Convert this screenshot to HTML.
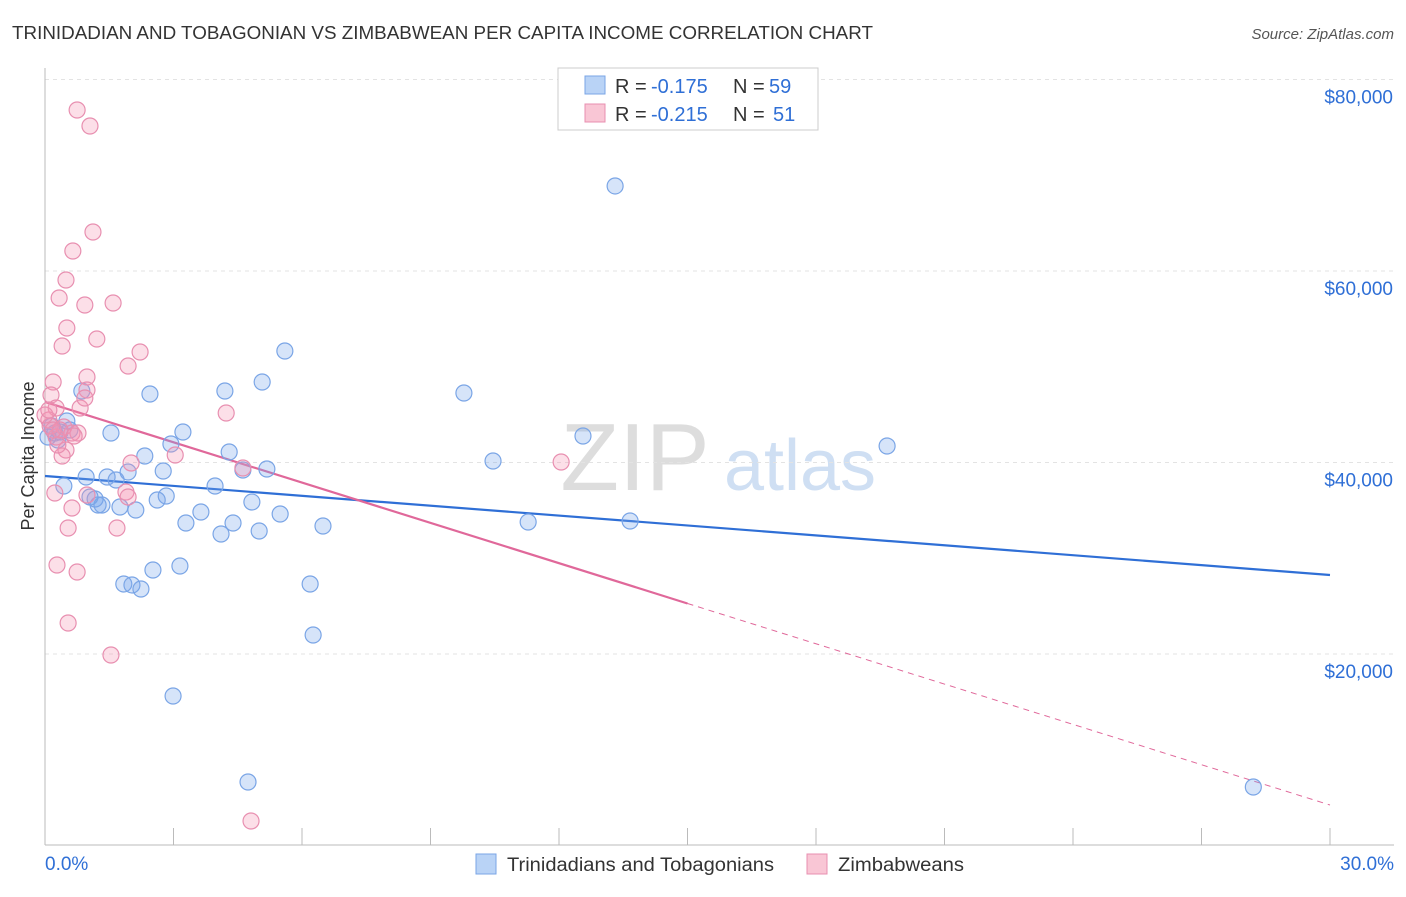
<!DOCTYPE html>
<html><head><meta charset="utf-8"><style>
body{margin:0;background:#fff;font-family:"Liberation Sans",sans-serif;}
svg text{font-family:"Liberation Sans",sans-serif;}
</style></head><body>
<svg id="chart" width="1406" height="892">
<text x="12" y="39" font-size="18" fill="#333" textLength="861" lengthAdjust="spacingAndGlyphs">TRINIDADIAN AND TOBAGONIAN VS ZIMBABWEAN PER CAPITA INCOME CORRELATION CHART</text>
<text x="1394" y="39" font-size="15" fill="#555" font-style="italic" text-anchor="end">Source: ZipAtlas.com</text>
<text transform="translate(34,456) rotate(-90)" font-size="18" fill="#333" text-anchor="middle">Per Capita Income</text>
<g><text x="635" y="490" font-size="96" fill="#ddd" font-family="Liberation Serif" text-anchor="middle">ZIP</text><text x="800" y="490" font-size="72" fill="#cfdff3" text-anchor="middle">atlas</text></g>
<g id="grid"></g><g id="axes"></g><g id="lines"></g><g id="pts"></g>
<g>
<rect x="558" y="68" width="260" height="62" fill="#fff" stroke="#ccc"/>
<rect x="585" y="76" width="20" height="18" fill="#b9d3f6" stroke="#7aa5e6"/>
<rect x="585" y="104" width="20" height="18" fill="#f9c6d5" stroke="#e88fb0"/>
<text x="615" y="93" font-size="20" fill="#333">R =</text>
<text x="651" y="93" font-size="20" fill="#2f6fd6">-0.175</text>
<text x="733" y="93" font-size="20" fill="#333">N =</text>
<text x="769" y="93" font-size="20" fill="#2f6fd6">59</text>
<text x="615" y="121" font-size="20" fill="#333">R =</text>
<text x="651" y="121" font-size="20" fill="#2f6fd6">-0.215</text>
<text x="733" y="121" font-size="20" fill="#333">N =</text>
<text x="773" y="121" font-size="20" fill="#2f6fd6">51</text>
</g>
<g>
<rect x="476" y="854" width="20" height="20" fill="#b9d3f6" stroke="#7aa5e6"/>
<text x="507" y="871" font-size="19" fill="#333" textLength="267" lengthAdjust="spacingAndGlyphs">Trinidadians and Tobagonians</text>
<rect x="807" y="854" width="20" height="20" fill="#f9c6d5" stroke="#e88fb0"/>
<text x="838" y="871" font-size="19" fill="#333" textLength="126" lengthAdjust="spacingAndGlyphs">Zimbabweans</text>
</g>
</svg>
<script>
const xTicks=[0,3,6,9,12,15,18,21,24,27,30];
const yTicks=[20000,40000,60000,80000];
const yTickLabels=["$20,000","$40,000","$60,000","$80,000"];
const blueX=[13.31,5.60,5.07,2.45,4.20,9.78,0.86,0.51,1.54,3.22,12.56,19.66,4.30,2.33,2.94,10.46,5.18,4.62,2.76,1.94,0.96,1.45,1.66,0.44,3.97,1.05,1.17,2.83,2.62,1.24,1.33,1.75,2.12,3.64,4.83,5.49,3.29,4.39,6.49,11.28,13.66,4.11,5.00,3.15,2.52,1.84,2.03,2.24,6.19,6.26,2.99,4.74,28.21,0.07,0.23,0.35,0.16,0.58,0.30];
const blueY=[68880,51645,48408,47155,47468,47259,47468,44335,43082,43186,42768,41724,41097,40679,41933,40157,39322,39217,39113,39008,38486,38486,38173,37546,37546,36397,36189,36502,36084,35562,35562,35353,35040,34831,35875,34622,33682,33682,33369,33787,33891,32533,32847,29191,28773,27311,27207,26789,27311,21985,15614,6632,6110,42664,43082,43186,43813,43395,42351];
const pinkX=[0.75,1.05,1.12,0.65,0.49,0.33,0.93,1.59,0.51,1.21,0.40,2.22,1.94,0.19,0.98,0.98,0.14,4.23,0.82,0.26,0.09,0.44,0.63,0.77,0.26,0.49,3.04,2.01,4.62,12.05,0.40,1.89,0.23,0.98,1.94,0.63,1.68,0.54,0.28,0.75,0.54,1.54,4.81,0.12,0.35,0.00,0.30,0.93,0.09,0.19,0.68];
const pinkY=[76816,75145,64074,62090,59061,57181,56450,56659,54048,52899,52168,51541,50079,48408,48930,47573,47050,45170,45693,45693,44440,43709,43082,43082,42664,41306,40784,39948,39426,40052,40679,36920,36815,36606,36397,35249,33160,33160,29296,28565,23238,19896,2559,43813,43395,44962,41829,46737,45484,43395,42768];
const blueTrend=[38590,28250];
const pinkTrend=[46320,4230];
const pinkSolidEnd=15;
const NS="http://www.w3.org/2000/svg";
const X=v=>45+v/30*1285, Y=v=>845.5-v/20000*191.5;
function mk(tag,attrs,parent){const e=document.createElementNS(NS,tag);for(const k in attrs)e.setAttribute(k,attrs[k]);document.getElementById(parent).appendChild(e);return e;}
yTicks.forEach((t,i)=>{
 const g=mk('line',{x1:45,x2:1394,y1:Y(t),y2:Y(t),stroke:'#e3e3e3','stroke-dasharray':'4,4'},'grid');
 
 
 const l=mk('text',{x:1393,y:Y(t)+24,'font-size':19,fill:'#2f6fd6','text-anchor':'end'},'grid');l.textContent=yTickLabels[i];
 
 
});
mk('line',{x1:45,x2:45,y1:68,y2:845,stroke:'#bbb'},'axes');
mk('line',{x1:45,x2:1394,y1:845,y2:845,stroke:'#bbb'},'axes');
xTicks.forEach(t=>{const k=mk('line',{x1:X(t),x2:X(t),y1:828,y2:845,stroke:'#bbb'},'axes');
 
 });
const xl0=mk('text',{x:45,y:870,'font-size':19,fill:'#2f6fd6'},'axes');xl0.textContent=xTicks[0].toFixed(1)+'%';


const xl1=mk('text',{x:1394,y:870,'font-size':19,fill:'#2f6fd6','text-anchor':'end'},'axes');xl1.textContent=xTicks[xTicks.length-1].toFixed(1)+'%';


blueX.forEach((x,i)=>{const c=mk('circle',{cx:X(x),cy:Y(blueY[i]),r:8,fill:'rgba(120,165,235,0.3)',stroke:'#7aa5e6','stroke-width':1.2},'pts');
 
 });
pinkX.forEach((x,i)=>{const c=mk('circle',{cx:X(x),cy:Y(pinkY[i]),r:8,fill:'rgba(245,150,180,0.3)',stroke:'#e88fb0','stroke-width':1.2},'pts');
 
 });
const bl=mk('line',{x1:X(0),y1:Y(blueTrend[0]),x2:X(30),y2:Y(blueTrend[1]),stroke:'#2f6fd6','stroke-width':2.2},'lines');


const pm=pinkTrend[0]+(pinkTrend[1]-pinkTrend[0])*pinkSolidEnd/30;
const pl=mk('line',{x1:X(0),y1:Y(pinkTrend[0]),x2:X(pinkSolidEnd),y2:Y(pm),stroke:'#e0689a','stroke-width':2.2},'lines');


const pd=mk('line',{x1:X(pinkSolidEnd),y1:Y(pm),x2:X(30),y2:Y(pinkTrend[1]),stroke:'#e0689a','stroke-width':1,'stroke-dasharray':'6,5'},'lines');


</script>
</body></html>
